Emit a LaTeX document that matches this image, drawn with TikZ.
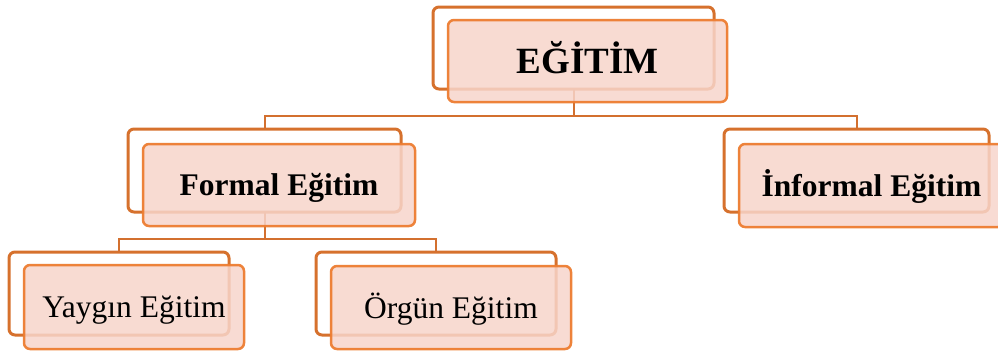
\documentclass[tikz,border=0pt]{standalone}
\usepackage{fontspec}
\setmainfont{Liberation Serif}
\definecolor{backline}{HTML}{D6712D}
\definecolor{frontline}{HTML}{ED7D31}
\definecolor{frontfill}{HTML}{F7D5CB}
\definecolor{connline}{HTML}{D3702F}
\begin{document}
\begin{tikzpicture}[x=1pt,y=-1pt,
  backbox/.style={draw=backline, line width=3pt, rounded corners=6pt, fill=white, inner sep=0pt, outer sep=0pt},
  frontbox/.style={draw=frontline, line width=2.5pt, rounded corners=6pt, fill=frontfill, fill opacity=0.85, draw opacity=0.95, text opacity=1, inner sep=0pt, outer sep=0pt, text depth=0pt, align=center},
  conn/.style={draw=connline, line width=2pt},
  lvlone/.style={font=\fontsize{37}{42}\selectfont\bfseries, text height=24pt},
  lvltwo/.style={font=\fontsize{31.5}{36}\selectfont\bfseries, text height=21pt},
  lvlthree/.style={font=\fontsize{31.5}{36}\selectfont, text height=21pt}]
\useasboundingbox (0,0) rectangle (998,351);
\clip (0,0) rectangle (998,351);
% back boxes
\node[backbox, minimum width=281pt, minimum height=82pt] (b0) at (573.5,48) {};
\node[backbox, minimum width=273pt, minimum height=83pt] (b1) at (264.5,170.5) {};
\node[backbox, minimum width=265pt, minimum height=83pt] (b2) at (856.5,170.5) {};
\node[backbox, minimum width=220pt, minimum height=83pt] (b3) at (119,293.5) {};
\node[backbox, minimum width=240pt, minimum height=83pt] (b4) at (436,293.5) {};
% connectors
\coordinate (j0) at (573.5,116);
\coordinate (j1) at (264.5,239);
\draw[conn] (b0.south) -- (j0) -| (b1.north);
\draw[conn] (j0) -| (b2.north);
\draw[conn] (b1.south) -- (j1) -| (b3.north);
\draw[conn] (j1) -| (b4.north);
% front boxes
\node[frontbox, lvlone, minimum width=279pt, minimum height=82pt] (f0) at (587.5,61) {EĞİTİM};
\node[frontbox, lvltwo, minimum width=272pt, minimum height=82pt] (f1) at (279,185) {Formal Eğitim};
\node[frontbox, lvltwo, minimum width=265pt, minimum height=83pt] (f2) at (871.5,185.5) {İnformal Eğitim};
\node[frontbox, lvlthree, minimum width=220pt, minimum height=84pt] (f3) at (134,307) {Yaygın Eğitim};
\node[frontbox, lvlthree, minimum width=240pt, minimum height=83pt] (f4) at (451,307.5) {Örgün Eğitim};
\end{tikzpicture}
\end{document}
